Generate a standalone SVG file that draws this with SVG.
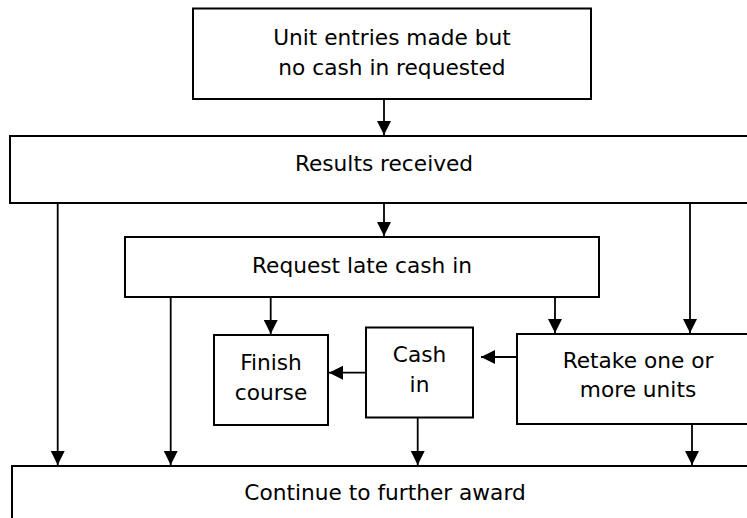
<svg xmlns="http://www.w3.org/2000/svg" width="747" height="518" viewBox="0 0 747 518">
<style>
.box{fill:#fff;stroke:#000;stroke-width:2}
.t{font-family:"DejaVu Sans","Verdana",sans-serif;font-size:21.7px;fill:#000;text-anchor:middle}
.c{fill:none;stroke:#000;stroke-width:1.8;marker-end:url(#ah)}
</style>
<defs>
<marker id="ah" markerUnits="userSpaceOnUse" markerWidth="15" markerHeight="14" refX="14" refY="7" orient="auto">
<path d="M0,0 L14,7 L0,14 z" fill="#000"/>
</marker>
</defs>
<rect width="747" height="518" fill="#fff"/>
<g id="n-unit"><rect class="box" x="193" y="8.5" width="398" height="90.5"/>
<text class="t" x="392" y="45">Unit entries made but</text>
<text class="t" x="392" y="75">no cash in requested</text></g>
<g id="n-results"><rect class="box" x="10" y="136" width="760" height="67"/>
<text class="t" x="384" y="171">Results received</text></g>
<g id="n-request"><rect class="box" x="125" y="237" width="474" height="60"/>
<text class="t" x="362" y="273">Request late cash in</text></g>
<g id="n-finish"><rect class="box" x="214" y="335" width="114" height="90"/>
<text class="t" x="271" y="370">Finish</text>
<text class="t" x="271" y="400">course</text></g>
<g id="n-cash"><rect class="box" x="366" y="327.5" width="107" height="90"/>
<text class="t" x="419.5" y="362">Cash</text>
<text class="t" x="419.5" y="392">in</text></g>
<g id="n-retake"><rect class="box" x="517" y="334" width="250" height="90"/>
<text class="t" x="638" y="368">Retake one or</text>
<text class="t" x="638" y="397">more units</text></g>
<g id="n-continue"><rect class="box" x="12" y="466" width="760" height="70"/>
<text class="t" x="385" y="500">Continue to further award</text></g>
<g id="connectors">
<line class="c" x1="384" y1="99" x2="384" y2="135"/>
<line class="c" x1="384" y1="203" x2="384" y2="236"/>
<line class="c" x1="57.7" y1="203" x2="57.7" y2="465"/>
<line class="c" x1="690" y1="203" x2="690" y2="333"/>
<line class="c" x1="170.7" y1="297" x2="170.7" y2="465"/>
<line class="c" x1="270.7" y1="297" x2="270.7" y2="334"/>
<line class="c" x1="555" y1="297" x2="555" y2="333"/>
<line class="c" x1="366" y1="372.7" x2="329" y2="372.7"/>
<line class="c" x1="517" y1="357" x2="481" y2="357"/>
<line class="c" x1="417.7" y1="417.5" x2="417.7" y2="465"/>
<line class="c" x1="692" y1="424" x2="692" y2="465"/>
</g>
</svg>
